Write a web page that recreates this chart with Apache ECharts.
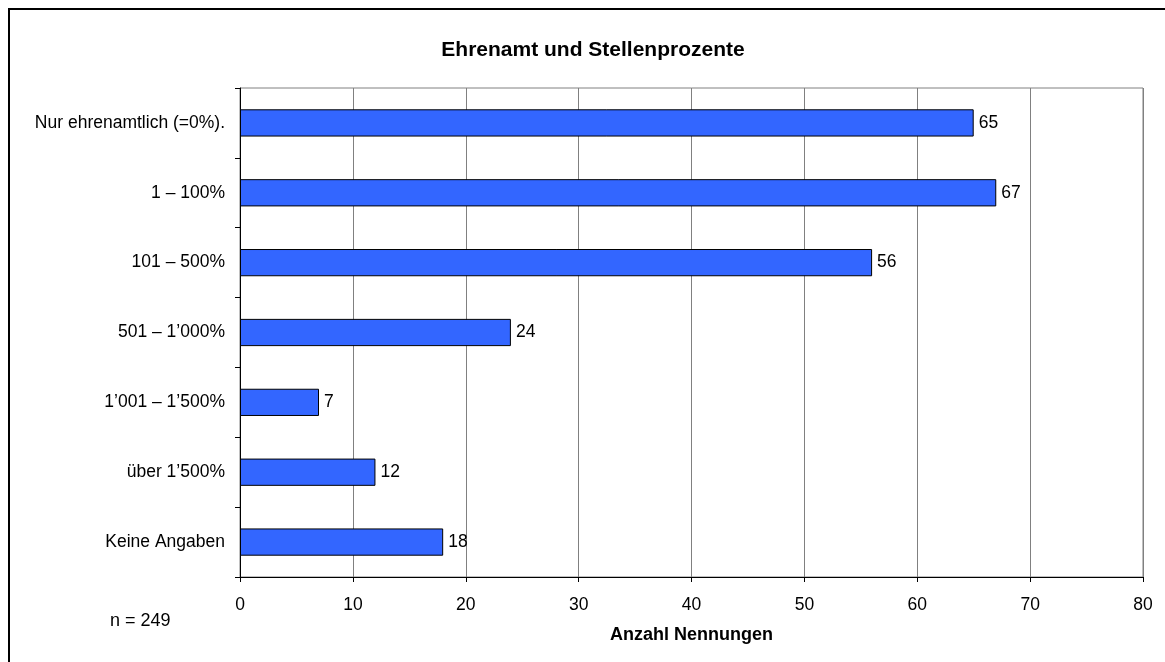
<!DOCTYPE html>
<html>
<head>
<meta charset="utf-8">
<script src="https://cdn.jsdelivr.net/npm/echarts@6/dist/echarts.min.js"></script>
<style>
html,body{margin:0;padding:0;background:#fff;}
#chart{width:1165px;height:662px;}
</style>
</head>
<body>
<div id="chart"></div>
<script>
const categories = ["Nur ehrenamtlich (=0%).", "1 – 100%", "101 – 500%", "501 – 1’000%", "1’001 – 1’500%", "über 1’500%", "Keine Angaben"];
const values = [65, 67, 56, 24, 7, 12, 18];
const titleText = "Ehrenamt und Stellenprozente";
const xAxisName = "Anzahl Nennungen";
const noteText = "n = 249";

const chart = echarts.init(document.getElementById('chart'));
const font = "Arial, 'Liberation Sans', sans-serif";
chart.setOption({
  animation: false,
  backgroundColor: '#fff',
  textStyle: { fontFamily: font },
  title: {
    text: titleText,
    left: 588, top: 35,
    textAlign: 'center',
    textStyle: { fontFamily: font, fontSize: 21, fontWeight: 'bold', color: '#000' }
  },
  graphic: [
    { type: 'rect', shape: { x: 9, y: 9, width: 1170, height: 700 }, style: { fill: 'none', stroke: '#000', lineWidth: 2 }, silent: true },
    { type: 'text', x: 110, y: 621, style: { text: noteText, fontFamily: font, fontSize: 18, fill: '#000', textVerticalAlign: 'middle', verticalAlign: 'middle' } }
  ],
  grid: { left: 240, right: 22, top: 88, bottom: 85, show: true, borderColor: '#808080', borderWidth: 1, backgroundColor: 'transparent' },
  xAxis: {
    type: 'value', min: 0, max: 80, interval: 10,
    name: xAxisName, nameLocation: 'middle', nameGap: 49,
    nameTextStyle: { fontFamily: font, fontSize: 18, fontWeight: 'bold', color: '#000' },
    axisLine: { show: true, lineStyle: { color: '#000', width: 1 } },
    axisTick: { show: true, length: 5, lineStyle: { color: '#000' } },
    axisLabel: { fontFamily: font, fontSize: 17.5, color: '#000', margin: 19 },
    splitLine: { show: true, lineStyle: { color: '#808080', width: 1 } }
  },
  yAxis: {
    type: 'category', data: categories, inverse: true,
    axisLine: { show: true, lineStyle: { color: '#000', width: 1 } },
    axisTick: { show: true, length: 5, lineStyle: { color: '#000' } },
    axisLabel: { fontFamily: font, fontSize: 17.5, color: '#000', margin: 15 },
    splitLine: { show: false }
  },
  series: [{
    type: 'bar', data: values, barCategoryGap: '61%',
    itemStyle: { color: '#3366FF', borderColor: '#000', borderWidth: 1 },
    label: { show: true, position: 'right', distance: 5, fontFamily: font, fontSize: 17.5, color: '#000' }
  }]
});
</script>
</body>
</html>
